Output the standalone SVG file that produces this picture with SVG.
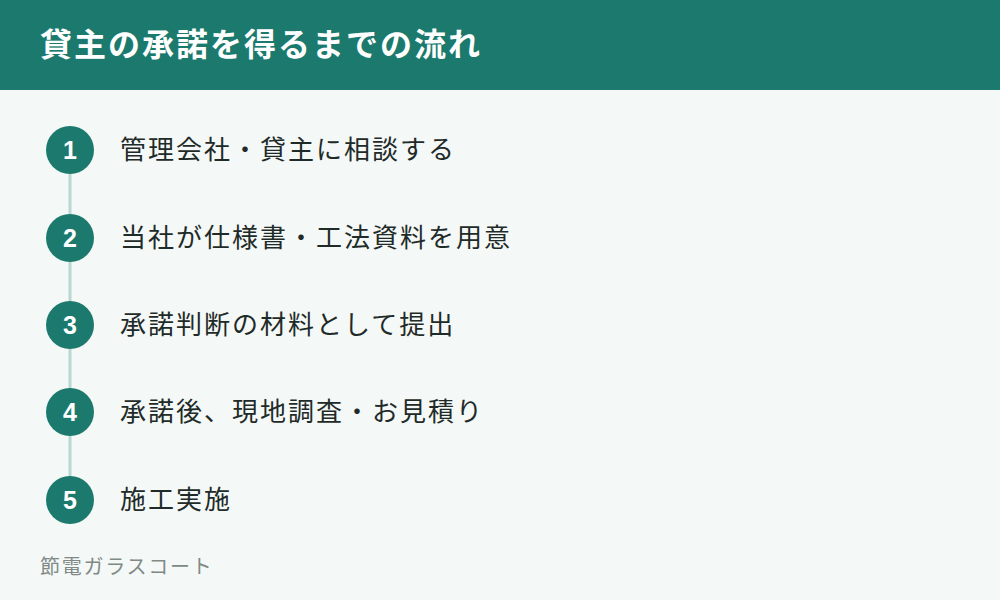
<svg xmlns="http://www.w3.org/2000/svg" width="1000" height="600" viewBox="0 0 1000 600">
<style>
.t{font-family:"Noto Sans CJK JP","Noto Sans",sans-serif;}
.title{font-size:32px;font-weight:700;fill:#ffffff;letter-spacing:2px;}
.num{font-family:"Liberation Sans","Noto Sans",sans-serif;font-size:25px;font-weight:700;fill:#ffffff;text-anchor:middle;}
.step{font-size:26px;fill:#1f2b28;letter-spacing:2px;}
.dot{fill:#1b7a6d;}
.line{stroke:#b9d8d1;stroke-width:3;}
.foot{font-size:20px;fill:#7f8a86;letter-spacing:1.75px;}
</style>
<rect width="1000" height="600" fill="#f4f8f7"/>
<rect width="1000" height="90" fill="#1b7a6d"/>
<text class="t title" x="40" y="56">貸主の承諾を得るまでの流れ</text>
<g id="connectors">
<line class="line" x1="70" y1="174" x2="70" y2="214"/>
<line class="line" x1="70" y1="262" x2="70" y2="301"/>
<line class="line" x1="70" y1="349" x2="70" y2="388"/>
<line class="line" x1="70" y1="436" x2="70" y2="476"/>
</g>
<g id="step1"><circle class="dot" cx="70" cy="150" r="24"/><text class="num" x="70" y="159">1</text><text class="t step" x="120" y="159">管理会社・貸主に相談する</text></g>
<g id="step2"><circle class="dot" cx="70" cy="238" r="24"/><text class="num" x="70" y="247">2</text><text class="t step" x="120" y="247">当社が仕様書・工法資料を用意</text></g>
<g id="step3"><circle class="dot" cx="70" cy="325" r="24"/><text class="num" x="70" y="334">3</text><text class="t step" x="120" y="334">承諾判断の材料として提出</text></g>
<g id="step4"><circle class="dot" cx="70" cy="412" r="24"/><text class="num" x="70" y="421">4</text><text class="t step" x="120" y="421">承諾後、現地調査・お見積り</text></g>
<g id="step5"><circle class="dot" cx="70" cy="500" r="24"/><text class="num" x="70" y="509">5</text><text class="t step" x="120" y="509">施工実施</text></g>
<text class="t foot" x="40" y="574">節電ガラスコート</text>
</svg>
